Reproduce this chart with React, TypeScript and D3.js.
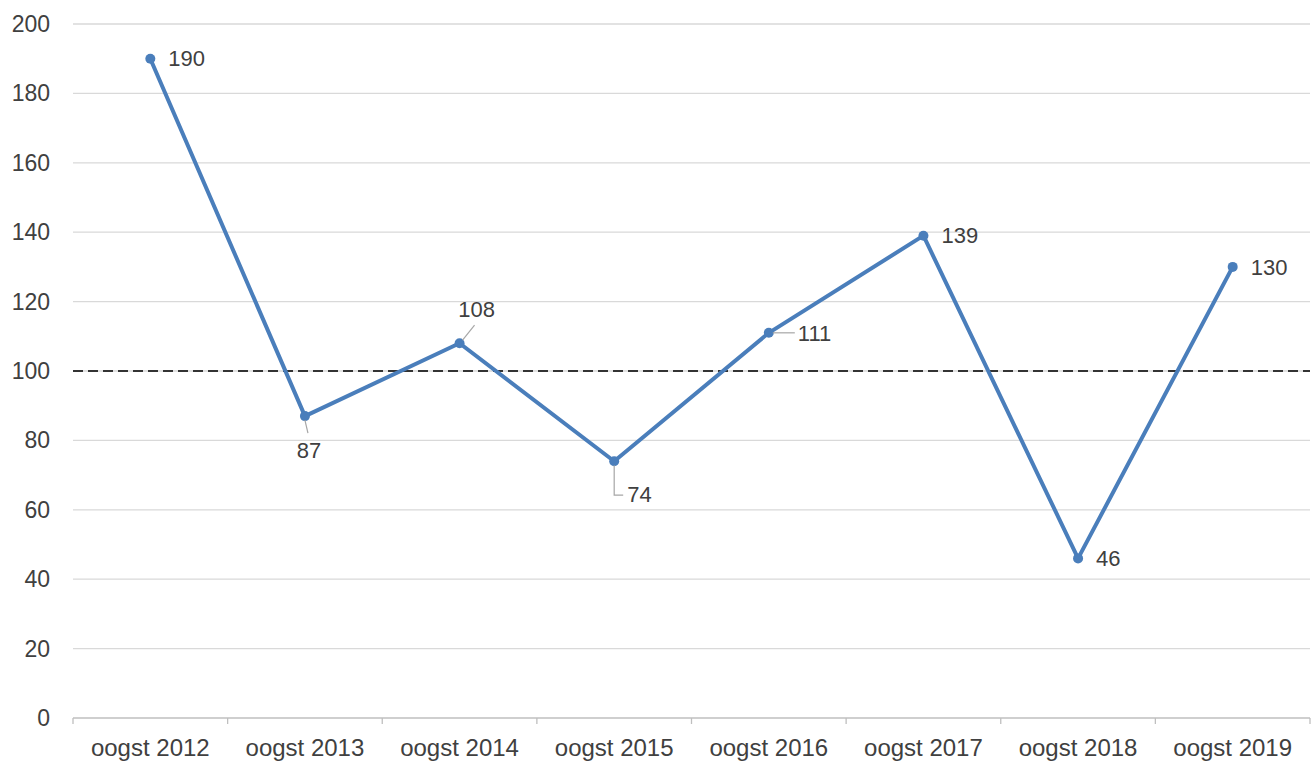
import React, { useEffect, useRef } from 'react';
import * as d3 from 'd3';

const CATEGORIES = ['oogst 2012', 'oogst 2013', 'oogst 2014', 'oogst 2015', 'oogst 2016', 'oogst 2017', 'oogst 2018', 'oogst 2019'];
const VALUES = [190, 87, 108, 74, 111, 139, 46, 130];
const Y_TICKS = [0, 20, 40, 60, 80, 100, 120, 140, 160, 180, 200];
const REFERENCE = 100;

// label placement per point: 'right' | 'below' | 'aboveRight' | 'elbow' | 'leaderRight'
const LABEL_POS = ['right', 'below', 'aboveRight', 'elbow', 'leaderRight', 'right', 'right', 'right'];

const W = 1314;
const H = 766;

export default function App() {
  const svgRef = useRef<SVGSVGElement>(null);

  useEffect(() => {
    if (!svgRef.current) return;
    const svg = d3.select(svgRef.current);
    svg.selectAll('*').remove();

    const left = 73, right = 1310, top = 24, bottom = 718;
    const font = 'Liberation Sans, Arial, sans-serif';
    const textColor = '#404040';
    const lineColor = '#4a7ebb';

    const x = d3.scaleBand<string>().domain(CATEGORIES).range([left, right]);
    const y = d3.scaleLinear().domain([0, 200]).range([bottom, top]);
    const cx = (c: string) => (x(c) as number) + x.bandwidth() / 2;

    // gridlines
    svg.append('g')
      .selectAll('line')
      .data(Y_TICKS.filter((t) => t > 0))
      .enter()
      .append('line')
      .attr('x1', left).attr('x2', right)
      .attr('y1', (d) => y(d)).attr('y2', (d) => y(d))
      .attr('stroke', '#d9d9d9')
      .attr('stroke-width', 1.3);

    // y labels
    svg.append('g')
      .selectAll('text')
      .data(Y_TICKS)
      .enter()
      .append('text')
      .attr('x', 50)
      .attr('y', (d) => y(d))
      .attr('dy', '0.35em')
      .attr('text-anchor', 'end')
      .attr('font-family', font)
      .attr('font-size', 23)
      .attr('fill', textColor)
      .text((d) => d);

    // x axis
    svg.append('line')
      .attr('x1', left).attr('x2', right)
      .attr('y1', bottom).attr('y2', bottom)
      .attr('stroke', '#bfbfbf').attr('stroke-width', 1.3);

    const boundaries = CATEGORIES.map((c) => x(c) as number).concat([right]);
    svg.append('g')
      .selectAll('line')
      .data(boundaries)
      .enter()
      .append('line')
      .attr('x1', (d) => d).attr('x2', (d) => d)
      .attr('y1', bottom).attr('y2', bottom + 6)
      .attr('stroke', '#bfbfbf').attr('stroke-width', 1.3);

    svg.append('g')
      .selectAll('text')
      .data(CATEGORIES)
      .enter()
      .append('text')
      .attr('x', (d) => cx(d))
      .attr('y', 748)
      .attr('dy', '0.35em')
      .attr('text-anchor', 'middle')
      .attr('font-family', font)
      .attr('font-size', 24)
      .attr('fill', textColor)
      .text((d) => d);

    // reference dashed line
    svg.append('line')
      .attr('x1', left).attr('x2', right)
      .attr('y1', y(REFERENCE)).attr('y2', y(REFERENCE))
      .attr('stroke', '#333')
      .attr('stroke-width', 2)
      .attr('stroke-dasharray', '10 5');

    const pts = CATEGORIES.map((c, i) => ({ c, v: VALUES[i], px: cx(c), py: y(VALUES[i]), pos: LABEL_POS[i] }));

    const line = d3.line<typeof pts[number]>().x((d) => d.px).y((d) => d.py);
    svg.append('path')
      .datum(pts)
      .attr('d', line)
      .attr('fill', 'none')
      .attr('stroke', lineColor)
      .attr('stroke-width', 4)
      .attr('stroke-linejoin', 'round');

    svg.append('g')
      .selectAll('circle')
      .data(pts)
      .enter()
      .append('circle')
      .attr('cx', (d) => d.px).attr('cy', (d) => d.py)
      .attr('r', 5)
      .attr('fill', lineColor);

    const leaders = svg.append('g')
      .attr('fill', 'none')
      .attr('stroke', '#a6a6a6')
      .attr('stroke-width', 1.2);
    const labels = svg.append('g')
      .attr('font-family', font)
      .attr('font-size', 22)
      .attr('fill', textColor);

    pts.forEach((p) => {
      let tx = p.px + 18, ty = p.py, anchor = 'start';
      if (p.pos === 'below') {
        tx = p.px + 4; ty = p.py + 34; anchor = 'middle';
        leaders.append('path').attr('d', `M${p.px},${p.py + 4}L${p.px + 3},${p.py + 17}`);
      } else if (p.pos === 'aboveRight') {
        tx = p.px + 17; ty = p.py - 34; anchor = 'middle';
        leaders.append('path').attr('d', `M${p.px + 3},${p.py - 3}L${p.px + 15},${p.py - 18}`);
      } else if (p.pos === 'elbow') {
        tx = p.px + 13; ty = p.py + 33;
        leaders.append('path').attr('d', `M${p.px},${p.py + 4}V${p.py + 34}H${p.px + 9}`);
      } else if (p.pos === 'leaderRight') {
        tx = p.px + 29; ty = p.py;
        leaders.append('path').attr('d', `M${p.px + 4},${p.py}H${p.px + 26}`);
      }
      labels.append('text')
        .attr('x', tx).attr('y', ty)
        .attr('dy', '0.35em')
        .attr('text-anchor', anchor)
        .text(p.v);
    });
  }, []);

  return (
    <svg
      ref={svgRef}
      width={W}
      height={H}
      viewBox={`0 0 ${W} ${H}`}
      style={{ position: 'absolute', left: 0, top: 0, background: '#fff' }}
    />
  );
}
